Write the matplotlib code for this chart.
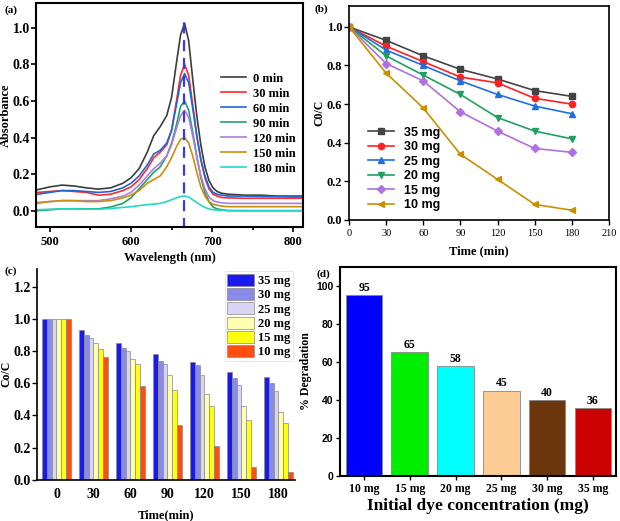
import numpy as np
import matplotlib
matplotlib.use("Agg")
import matplotlib.pyplot as plt
from matplotlib.ticker import MultipleLocator

plt.rcParams['font.family'] = ['Liberation Serif', 'DejaVu Serif']
plt.rcParams['font.weight'] = 'bold'
plt.rcParams['axes.labelweight'] = 'bold'
plt.rcParams['xtick.direction'] = 'out'
plt.rcParams['ytick.direction'] = 'out'

# ---- (a) UV-vis spectra ----
wl = [485, 500, 515, 530, 545, 560, 575, 590, 600, 610, 620, 628, 636, 644, 650, 656,
      661, 666, 671, 676, 681, 686, 691, 696, 701, 706, 712, 720, 740, 760, 780, 800, 810]
abs_0 = [0.115, 0.13, 0.14, 0.135, 0.125, 0.118, 0.125, 0.15, 0.18, 0.23, 0.32, 0.41, 0.46, 0.52, 0.62, 0.81,
         0.96, 1.025, 0.93, 0.72, 0.52, 0.36, 0.24, 0.165, 0.125, 0.105, 0.095, 0.09, 0.085, 0.085, 0.08, 0.08, 0.08]
abs_30 = [0.10, 0.105, 0.11, 0.105, 0.10, 0.085, 0.09, 0.11, 0.13, 0.17, 0.23, 0.29, 0.32, 0.36, 0.44, 0.60,
          0.74, 0.80, 0.74, 0.58, 0.41, 0.28, 0.18, 0.12, 0.09, 0.08, 0.072, 0.07, 0.068, 0.068, 0.068, 0.068, 0.068]
abs_60 = [0.09, 0.10, 0.11, 0.11, 0.105, 0.10, 0.105, 0.125, 0.15, 0.19, 0.25, 0.31, 0.33, 0.37, 0.44, 0.58,
          0.70, 0.75, 0.70, 0.56, 0.41, 0.28, 0.19, 0.13, 0.10, 0.09, 0.085, 0.08, 0.08, 0.078, 0.077, 0.075, 0.075]
abs_90 = [0.0, 0.005, 0.01, 0.01, 0.01, 0.01, 0.02, 0.04, 0.07, 0.12, 0.17, 0.21, 0.24, 0.30, 0.37, 0.47,
          0.57, 0.60, 0.55, 0.43, 0.30, 0.18, 0.10, 0.05, 0.02, 0.01, 0.005, 0.0, 0.0, 0.0, 0.0, 0.0, 0.0]
abs_120 = [0.045, 0.05, 0.055, 0.055, 0.055, 0.055, 0.065, 0.08, 0.10, 0.14, 0.19, 0.23, 0.26, 0.30, 0.36, 0.45,
           0.52, 0.55, 0.51, 0.41, 0.29, 0.19, 0.12, 0.075, 0.055, 0.048, 0.043, 0.04, 0.04, 0.04, 0.04, 0.04, 0.04]
abs_150 = [0.04, 0.05, 0.055, 0.055, 0.05, 0.05, 0.055, 0.07, 0.085, 0.11, 0.15, 0.17, 0.19, 0.24, 0.29, 0.35,
           0.39, 0.40, 0.37, 0.30, 0.21, 0.13, 0.08, 0.05, 0.035, 0.03, 0.025, 0.022, 0.022, 0.022, 0.022, 0.022, 0.022]
abs_180 = [0.005, 0.008, 0.01, 0.01, 0.008, 0.008, 0.012, 0.018, 0.022, 0.028, 0.033, 0.036, 0.04, 0.05, 0.06, 0.07,
           0.078, 0.08, 0.075, 0.06, 0.045, 0.03, 0.018, 0.01, 0.005, 0.003, 0.002, 0.001, 0.0, 0.0, 0.0, 0.0, 0.0]
spec_labels = ['0 min', '30 min', '60 min', '90 min', '120 min', '150 min', '180 min']
spec_colors = ['#3c3c3c', '#ff2a2a', '#1f66d6', '#20a070', '#b07ce0', '#c8900a', '#22d8c8']
peak_wl = 665

# ---- (b)/(c) kinetics ----
time_min = [0, 30, 60, 90, 120, 150, 180]
doses = ['35 mg', '30 mg', '25 mg', '20 mg', '15 mg', '10 mg']
c_35 = [1.0, 0.93, 0.85, 0.78, 0.73, 0.67, 0.64]
c_30 = [1.0, 0.90, 0.82, 0.74, 0.71, 0.63, 0.60]
c_25 = [1.0, 0.88, 0.80, 0.72, 0.65, 0.59, 0.55]
c_20 = [1.0, 0.85, 0.75, 0.65, 0.53, 0.46, 0.42]
c_15 = [1.0, 0.81, 0.72, 0.56, 0.46, 0.37, 0.35]
c_10 = [1.0, 0.76, 0.58, 0.34, 0.21, 0.08, 0.05]
line_colors = ['#444444', '#ff2020', '#1f6fe0', '#20a060', '#b070e0', '#c89000']
line_markers = ['s', 'o', '^', 'v', 'D', '<']
bar_colors = ['#1a1aee', '#8a8ae8', '#d6d6f4', '#ffffb0', '#ffff10', '#ff4e10']

# ---- (d) degradation ----
conc = ['10 mg', '15 mg', '20 mg', '25 mg', '30 mg', '35 mg']
degr = [95, 65, 58, 45, 40, 36]
degr_colors = ['#0000ff', '#00ee00', '#00ffff', '#fdcc94', '#6b360c', '#cc0000']

fig = plt.figure(figsize=(6.2, 5.21), dpi=100)

# (a)
ax1 = fig.add_axes([0.058, 0.564, 0.431, 0.430])
spectra = [abs_0, abs_30, abs_60, abs_90, abs_120, abs_150, abs_180]
for s, lab, col in zip(spectra, spec_labels, spec_colors):
    ax1.plot(wl, s, color=col, lw=1.2, label=lab)
ax1.vlines(peak_wl, -0.1, 1.03, colors='#3a3ae0', linestyles=(0, (5, 3)), lw=1.6)
ax1.set_xlim(483, 812)
ax1.set_ylim(-0.09, 1.135)
ax1.xaxis.set_major_locator(MultipleLocator(100))
ax1.xaxis.set_minor_locator(MultipleLocator(50))
ax1.yaxis.set_major_locator(MultipleLocator(0.2))
ax1.set_xlabel('Wavelength (nm)', fontsize=9, labelpad=3)
ax1.set_ylabel('Absorbance', fontsize=9)
ax1.yaxis.set_label_coords(-0.09, 0.5)
ax1.tick_params(axis='y', labelsize=10, width=1.2, length=3.5, pad=1)
ax1.tick_params(axis='x', labelsize=9, width=1.2, length=3.5, pad=3)
ax1.tick_params(which='minor', width=1.2, length=2)
ax1.legend(loc='upper right', bbox_to_anchor=(0.97, 0.69), frameon=False, fontsize=9,
           handlelength=2.0, labelspacing=0.24, borderaxespad=0, borderpad=0, handletextpad=0.5)
for sp in ax1.spines.values():
    sp.set_linewidth(1.5)
fig.text(0.007, 0.99, '(a)', fontsize=8, va='top', ha='left')

# (b)
ax2 = fig.add_axes([0.563, 0.578, 0.419, 0.410])
series = [c_35, c_30, c_25, c_20, c_15, c_10]
for s, lab, col, mk in zip(series, doses, line_colors, line_markers):
    ax2.plot(time_min, s, color=col, marker=mk, ms=4.5, lw=1.2, label=lab)
ax2.set_xlim(0, 210)
ax2.set_ylim(0, 1.107)
ax2.xaxis.set_major_locator(MultipleLocator(30))
ax2.yaxis.set_major_locator(MultipleLocator(0.2))
ax2.set_xlabel('Time (min)', fontsize=9, labelpad=5)
ax2.set_ylabel('C0/C', fontsize=8.5)
ax2.yaxis.set_label_coords(-0.092, 0.5)
ax2.tick_params(axis='y', labelsize=9, width=1.0, length=3.5, pad=1.5)
ax2.tick_params(axis='x', labelsize=7.5, width=1.0, length=3.5, pad=3)
for t in ax2.get_xticklabels():
    t.set_fontweight('normal')
ax2.legend(loc='lower left', frameon=False, prop={'family': 'Liberation Sans', 'weight': 'bold', 'size': 9},
           handlelength=2.1, labelspacing=0.2, borderaxespad=0.3, bbox_to_anchor=(0.04, 0.0))
for sp in ax2.spines.values():
    sp.set_linewidth(1.2)
fig.text(0.508, 0.992, '(b)', fontsize=8, va='top', ha='left')

# (c)
ax3 = fig.add_axes([0.060, 0.079, 0.416, 0.405])
x = np.arange(len(time_min))
bw = 0.8 / 6
for i, (s, lab, col) in enumerate(zip(series, doses, bar_colors)):
    ax3.bar(x - 0.4 + bw * (i + 0.5), s, width=bw, color=col, edgecolor='#888888', lw=0.5, label=lab)
ax3.set_xticks(x)
ax3.set_xticklabels([str(t) for t in time_min])
ax3.set_xlim(-0.52, 6.45)
ax3.set_ylim(0, 1.31)
ax3.yaxis.set_major_locator(MultipleLocator(0.2))
ax3.set_xlabel('Time(min)', fontsize=9, labelpad=6)
ax3.set_ylabel('Co/C', fontsize=8.5)
ax3.yaxis.set_label_coords(-0.095, 0.5)
ax3.tick_params(labelsize=10, width=1.0, length=3.5, pad=1)
ax3.tick_params(axis='x', length=0, pad=6)
ax3.spines['top'].set_visible(False)
ax3.spines['right'].set_visible(False)
ax3.spines['left'].set_linewidth(1.2)
ax3.spines['bottom'].set_linewidth(1.2)
leg = ax3.legend(loc='upper right', fontsize=9, handlelength=2.15, handleheight=1.1,
                 labelspacing=0.08, borderaxespad=0.2, borderpad=0.2, handletextpad=0.3,
                 fancybox=False, bbox_to_anchor=(1.0, 1.0))
leg.get_frame().set_edgecolor('#dddddd')
leg.get_frame().set_linewidth(0.6)
fig.text(0.007, 0.488, '(c)', fontsize=8, va='top', ha='left')

# (d)
ax4 = fig.add_axes([0.548, 0.086, 0.446, 0.402])
xd = np.arange(len(conc))
ax4.bar(xd, degr, width=0.8, color=degr_colors, edgecolor='#888888', lw=0.6)
for xi, v in zip(xd, degr):
    ax4.text(xi, v + 0.6, str(v), ha='center', va='bottom', fontsize=8.5)
ax4.set_xticks(xd)
ax4.set_xticklabels(conc)
ax4.set_xlim(-0.53, 5.51)
ax4.set_ylim(0, 110)
ax4.yaxis.set_major_locator(MultipleLocator(20))
ax4.set_xlabel('Initial dye concentration (mg)', fontsize=12.5, labelpad=2)
ax4.set_ylabel('% Degradation', fontsize=8.5)
ax4.yaxis.set_label_coords(-0.10, 0.5)
ax4.tick_params(axis='x', labelsize=8.5, width=1.0, length=3, pad=2)
ax4.tick_params(axis='y', labelsize=7.5, width=1.0, length=3, pad=1.5)
for t in ax4.get_yticklabels():
    t.set_fontfamily('Liberation Sans')
    t.set_fontweight('bold')
for sp in ax4.spines.values():
    sp.set_linewidth(1.5)
fig.text(0.511, 0.483, '(d)', fontsize=8, va='top', ha='left')

fig.savefig('out.png', dpi=100)
